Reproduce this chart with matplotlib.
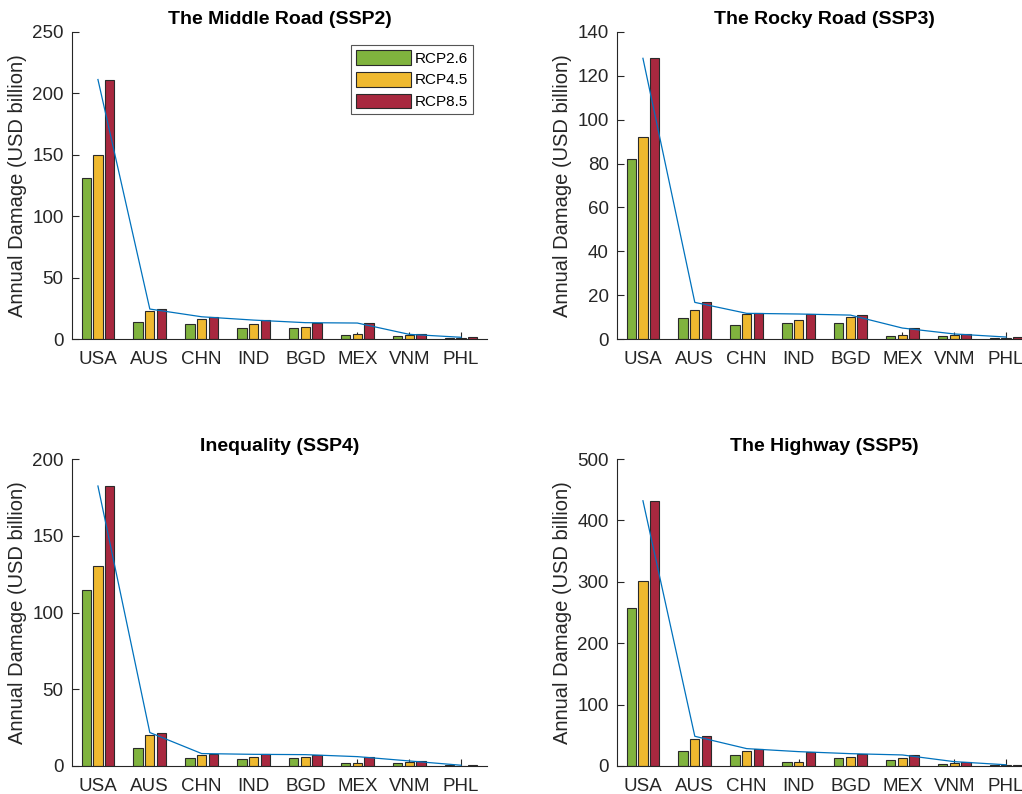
import matplotlib
matplotlib.use("Agg")
import matplotlib.pyplot as plt
import numpy as np

plt.rcParams['font.family'] = ['Liberation Sans', 'DejaVu Sans']

countries = ["USA", "AUS", "CHN", "IND", "BGD", "MEX", "VNM", "PHL"]
scenarios = ["RCP2.6", "RCP4.5", "RCP8.5"]

titles = ["The Middle Road (SSP2)", "The Rocky Road (SSP3)",
          "Inequality (SSP4)", "The Highway (SSP5)"]

ssp2_rcp26 = [130.8, 13.5, 12.5, 9.2, 8.7, 3.3, 2.4, 1.1]
ssp2_rcp45 = [149.8, 23.0, 16.5, 12.5, 10.0, 4.1, 3.0, 0.8]
ssp2_rcp85 = [211.3, 24.4, 18.1, 15.4, 13.3, 13.0, 3.8, 1.4]

ssp3_rcp26 = [81.9, 9.7, 6.5, 7.4, 7.4, 1.4, 1.4, 0.6]
ssp3_rcp45 = [92.2, 13.0, 11.2, 8.8, 9.9, 1.8, 1.8, 0.6]
ssp3_rcp85 = [128.0, 16.7, 11.7, 11.4, 10.9, 5.0, 2.3, 0.9]

ssp4_rcp26 = [114.5, 12.0, 5.4, 4.8, 5.0, 1.7, 2.2, 0.4]
ssp4_rcp45 = [130.1, 20.5, 7.4, 6.1, 5.9, 2.2, 2.4, 0.3]
ssp4_rcp85 = [182.4, 21.8, 8.1, 7.6, 7.4, 6.1, 3.3, 0.5]

ssp5_rcp26 = [257.3, 25.0, 18.5, 6.0, 13.1, 10.3, 3.8, 1.5]
ssp5_rcp45 = [300.9, 44.6, 25.0, 7.1, 15.2, 13.6, 5.4, 1.5]
ssp5_rcp85 = [432.0, 48.4, 28.3, 23.4, 20.1, 18.0, 7.1, 2.0]

yticks_list = [np.arange(0, 251, 50), np.arange(0, 141, 20),
               np.arange(0, 201, 50), np.arange(0, 501, 100)]

panels = [
    (ssp2_rcp26, ssp2_rcp45, ssp2_rcp85),
    (ssp3_rcp26, ssp3_rcp45, ssp3_rcp85),
    (ssp4_rcp26, ssp4_rcp45, ssp4_rcp85),
    (ssp5_rcp26, ssp5_rcp45, ssp5_rcp85),
]

colors = ["#80B33E", "#EFB92F", "#A8283F"]
line_color = "#0072BD"
axis_color = "#262626"

fig = plt.figure(figsize=(10.22, 7.94), dpi=100)

W, H = 1022, 794
ax_w = 415 / W
ax_h = 307 / H
lefts = [72 / W, 617 / W, 72 / W, 617 / W]
bottoms = [(H - 339) / H, (H - 339) / H, (H - 766) / H, (H - 766) / H]

x = np.arange(1, len(countries) + 1)
offsets = [-0.225, 0.0, 0.225]
bw = 0.18

for i, (data, title, yt) in enumerate(zip(panels, titles, yticks_list)):
    ax = fig.add_axes([lefts[i], bottoms[i], ax_w, ax_h])
    ax.set_axisbelow(True)
    handles = []
    for j, vals in enumerate(data):
        b = ax.bar(x + offsets[j], vals, width=bw, color=colors[j],
                   edgecolor="#2a2a2a", linewidth=0.8, label=scenarios[j], zorder=2)
        handles.append(b)
    ax.plot(x, data[2], color=line_color, linewidth=0.9, zorder=3)
    ax.set_xlim(0.5, 8.5)
    ax.set_ylim(yt[0], yt[-1])
    ax.set_yticks(yt)
    ax.set_xticks(x)
    ax.set_xticklabels(countries)
    ax.spines['top'].set_visible(False)
    ax.spines['right'].set_visible(False)
    for s in ['left', 'bottom']:
        ax.spines[s].set_color(axis_color)
        ax.spines[s].set_linewidth(0.8)
    ax.tick_params(direction='in', length=5, width=0.8, color=axis_color,
                   labelcolor=axis_color, labelsize=13.5)
    ax.tick_params(axis='x', pad=8.5)
    ax.tick_params(axis='y', pad=6)
    ax.set_title(title, fontsize=14, fontweight='bold', pad=6)
    ax.set_ylabel("Annual Damage (USD billion)", fontsize=14.5, color=axis_color, labelpad=4)
    if i == 0:
        leg = ax.legend(handles=handles, loc='upper right',
                        bbox_to_anchor=(0.966, 0.958), fontsize=11,
                        fancybox=False, framealpha=1, edgecolor='#555555',
                        handlelength=3.6, handleheight=1.1, handletextpad=0.2,
                        labelspacing=0.4, borderpad=0.35, borderaxespad=0)
        leg.get_frame().set_linewidth(0.8)

fig.savefig("out.png", dpi=100)
